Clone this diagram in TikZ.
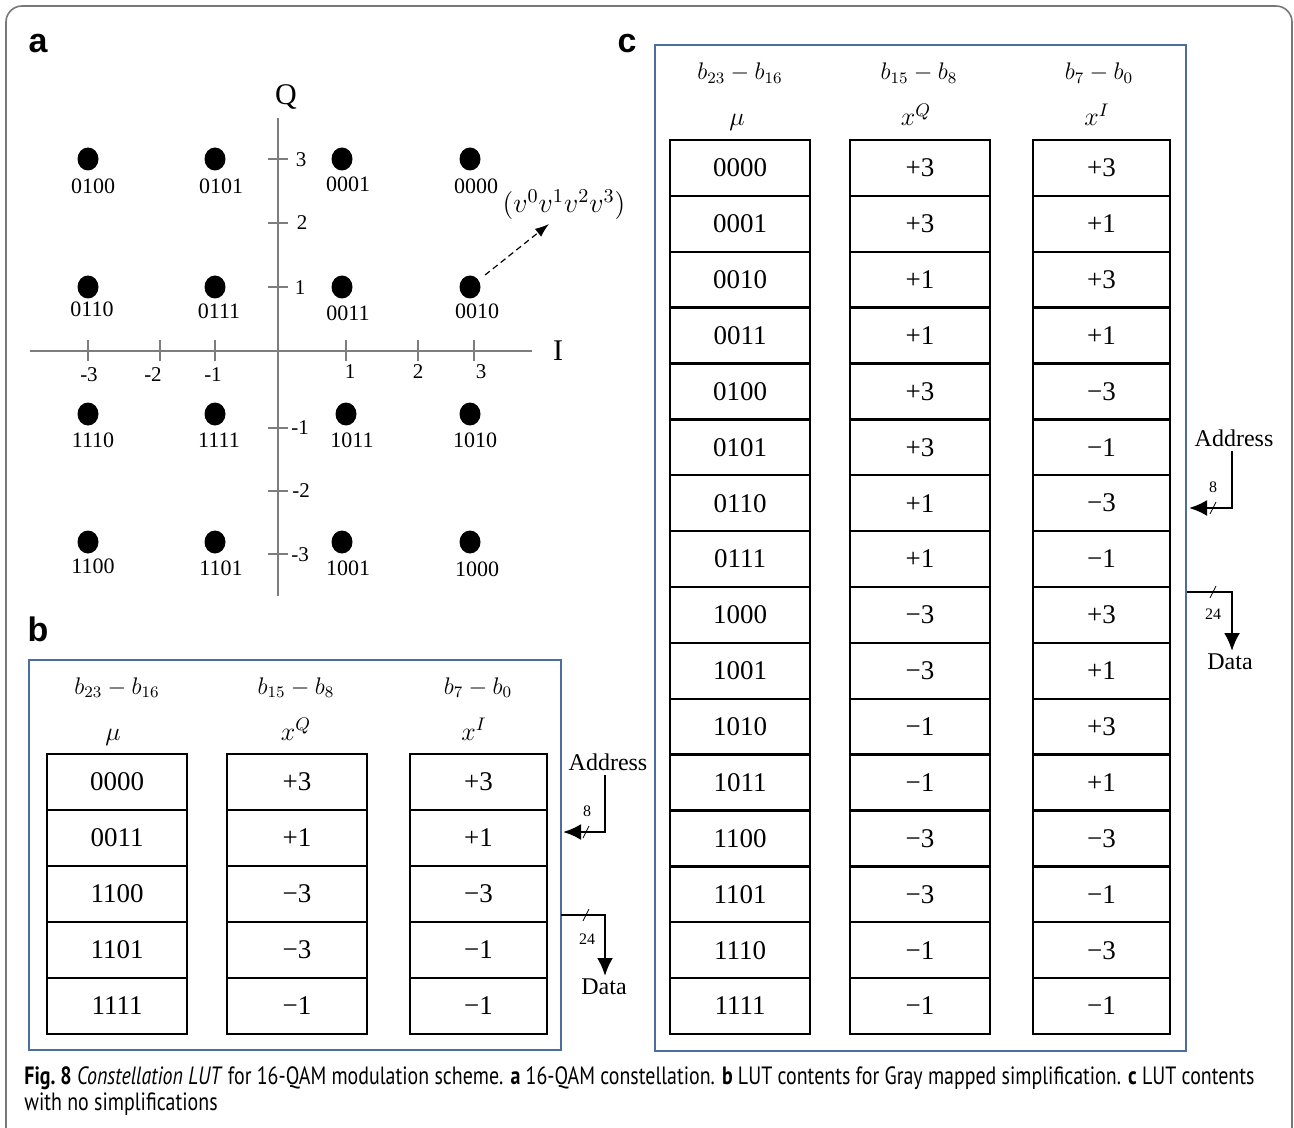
\RequirePackage{fix-cm}
\documentclass[tikz,border=0pt]{standalone}
\usepackage{fontspec}
\setmainfont{Liberation Serif}
\newfontfamily\sansb{Liberation Sans}
\newfontfamily\capfont{PT Sans}
\usetikzlibrary{arrows.meta,shapes.geometric}
\definecolor{frameblue}{RGB}{74,110,160}
\definecolor{axisgray}{RGB}{125,125,125}
\definecolor{outergray}{RGB}{120,120,120}
\begin{document}
\begin{tikzpicture}[x=0.5pt,y=-0.5pt,
  dot/.style={ellipse, fill=black, inner sep=0pt, minimum width=10.5pt, minimum height=11.5pt},
  bits/.style={font=\fontsize{11}{12}\selectfont, inner sep=0pt},
  axnum/.style={font=\fontsize{10.5}{11}\selectfont, inner sep=0pt},
  axis/.style={draw=axisgray, line width=0.6pt},
  cell/.style={draw, line width=1.2pt, minimum width=69pt, minimum height=28pt, inner sep=0pt, font=\fontsize{13.5}{14}\selectfont},
  hdr/.style={font=\fontsize{12}{13}\selectfont, inner sep=0pt, anchor=base},
  sym/.style={font=\fontsize{13}{14}\selectfont, inner sep=0pt, anchor=base},
  frame/.style={draw=frameblue, line width=1pt, inner sep=0pt},
  conn/.style={line width=1.2pt},
  tip/.style={-{Latex[length=9pt,width=8pt]}},
  slash/.style={line width=0.4pt},
  small/.style={font=\fontsize{8}{9}\selectfont, inner sep=0pt},
  io/.style={font=\fontsize{12}{13}\selectfont, inner sep=0pt},
  panel/.style={font=\sansb\bfseries\fontsize{17}{18}\selectfont, inner sep=0pt}
]
\useasboundingbox (0,0) rectangle (1294,1128);
\clip (0,0) rectangle (1294,1128);
\draw[outergray, line width=0.8pt, rounded corners=8pt] (6,6) rectangle (1292,1150);

% panel labels
\node[panel] (pa) at (38,44) {a};
\node[panel] (pc) at (627,44) {c};
\node[panel] (pb) at (38,629) {b};

% ---------- constellation ----------
\draw[axis] (30,351) -- (532,351);
\draw[axis] (278,118) -- (278,596);
\foreach \x in {88,160,215,346,418,474} \draw[axis] (\x,340) -- (\x,361);
\foreach \y in {159,223,287,428,491,554} \draw[axis] (268,\y) -- (288,\y);
\node[font=\fontsize{15}{16}\selectfont, inner sep=0pt] (Qlab) at (286,97) {Q};
\node[font=\fontsize{15}{16}\selectfont, inner sep=0pt] (Ilab) at (558,351) {I};
\node[axnum] at (89,375) {-3};
\node[axnum] at (153,375) {-2};
\node[axnum] at (213,375) {-1};
\node[axnum] at (350,372) {1};
\node[axnum] at (418,372) {2};
\node[axnum] at (481,372) {3};
\node[axnum] at (301,160) {3};
\node[axnum] at (302,223) {2};
\node[axnum] at (300,288) {1};
\node[axnum] at (300,428) {-1};
\node[axnum] at (301,491) {-2};
\node[axnum] at (300,555) {-3};

\foreach \x/\y/\b/\lx/\ly in {
  88/159/0100/93/186, 215/159/0101/221/186, 342/159/0001/348/184, 470/159/0000/476/186,
  88/287/0110/92/309, 215/287/0111/219/311, 342/287/0011/348/313, 470/287/0010/477/311,
  88/414/1110/93/440, 215/414/1111/219/440, 346/414/1011/352/440, 470/414/1010/475/440,
  88/542/1100/93/566, 215/542/1101/221/568, 342/542/1001/348/568, 470/542/1000/477/569}{
  \node[dot] (d\b) at (\x,\y) {};
  \node[bits] (l\b) at (\lx,\ly) {\b};
}
\node[font=\fontsize{14}{15}\selectfont, inner sep=0pt] (vlab) at (564,205) {$(v^0v^1v^2v^3)$};
\coordinate (vtip) at (549,224);
\draw[line width=0.6pt, dash pattern=on 3pt off 2pt, -{Latex[length=7pt,width=5pt]}, shorten <=4pt] (d0010) -- (vtip);

% ---------- table b ----------
\node[frame, minimum width=266pt, minimum height=195pt] (fb) at (295,855) {};
\node[hdr] (hb1) at (117,694) {$b_{23}-b_{16}$};
\node[hdr] (hb2) at (296,694) {$b_{15}-b_{8}$};
\node[hdr] (hb3) at (478,694) {$b_{7}-b_{0}$};
\node[sym] (sb1) at (113,740) {$\mu$};
\node[sym] (sb2) at (296,740) {$x^{Q}$};
\node[sym] (sb3) at (474,740) {$x^{I}$};
\foreach \m/\q/\i [count=\k from 0] in {0000/+3/+3, 0011/+1/+1, 1100/−3/−3, 1101/−3/−1, 1111/−1/−1}{
  \node[cell, minimum width=70pt] (ba\k) at (117,{754+56*(\k+0.5)}) {\m};
  \node[cell, minimum width=70pt] (bb\k) at (297,{754+56*(\k+0.5)}) {\q};
  \node[cell, minimum width=68.5pt] (bc\k) at (478.5,{754+56*(\k+0.5)}) {\i};
}
\node[io] (addrb) at (608,762) {Address};
\coordinate (abend) at (563,832);
\draw[conn, tip] (605,775) |- (abend);
\draw[slash] (583,838) -- (589,826);
\node[small] (nb8) at (587,811) {8};
\node[io] (datab) at (604,987) {Data};
\coordinate (dbstart) at (561,915);
\draw[conn, tip] (dbstart) -| (605,976);
\draw[slash] (583,921) -- (589,909);
\node[small] (nb24) at (587,939) {24};

% ---------- table c ----------
\node[frame, minimum width=265.5pt, minimum height=503pt] (fc) at (920.5,548) {};
\node[hdr] (hc1) at (740,80) {$b_{23}-b_{16}$};
\node[hdr] (hc2) at (919,80) {$b_{15}-b_{8}$};
\node[hdr] (hc3) at (1099,80) {$b_{7}-b_{0}$};
\node[sym] (sc1) at (737,126) {$\mu$};
\node[sym] (sc2) at (916,126) {$x^{Q}$};
\node[sym] (sc3) at (1097,126) {$x^{I}$};
\foreach \m/\q/\i [count=\k from 0] in {0000/+3/+3, 0001/+3/+1, 0010/+1/+3, 0011/+1/+1,
   0100/+3/−3, 0101/+3/−1, 0110/+1/−3, 0111/+1/−1, 1000/−3/+3, 1001/−3/+1,
   1010/−1/+3, 1011/−1/+1, 1100/−3/−3, 1101/−3/−1, 1110/−1/−3, 1111/−1/−1}{
  \node[cell, minimum width=70pt, minimum height=27.94pt] (ca\k) at (740,{140+55.875*(\k+0.5)}) {\m};
  \node[cell, minimum width=70pt, minimum height=27.94pt] (cb\k) at (920,{140+55.875*(\k+0.5)}) {\q};
  \node[cell, minimum width=68.5pt, minimum height=27.94pt] (cc\k) at (1101.5,{140+55.875*(\k+0.5)}) {\i};
}
\node[io] (addrc) at (1234,438) {Address};
\coordinate (acend) at (1189,508);
\draw[conn, tip] (1232,451) |- (acend);
\draw[slash] (1210,514) -- (1216,502);
\node[small] (nc8) at (1213,487) {8};
\node[io] (datac) at (1230,662) {Data};
\coordinate (dcstart) at (1187,592);
\draw[conn, tip] (dcstart) -| (1232,651);
\draw[slash] (1210,598) -- (1216,586);
\node[small] (nc24) at (1213,614) {24};

% ---------- caption ----------
\node[anchor=north west, inner sep=0pt, font=\capfont\fontsize{12.5}{13}\selectfont] (cap) at (24,1066)
 {\resizebox{615pt}{\height}{\begin{tabular}{@{}l@{}}\textbf{Fig.~8} \textit{Constellation LUT} for 16-QAM modulation scheme. \textbf{a} 16-QAM constellation. \textbf{b} LUT contents for Gray mapped simplification. \textbf{c} LUT contents\\ with no simplifications\end{tabular}}};
\end{tikzpicture}
\end{document}
